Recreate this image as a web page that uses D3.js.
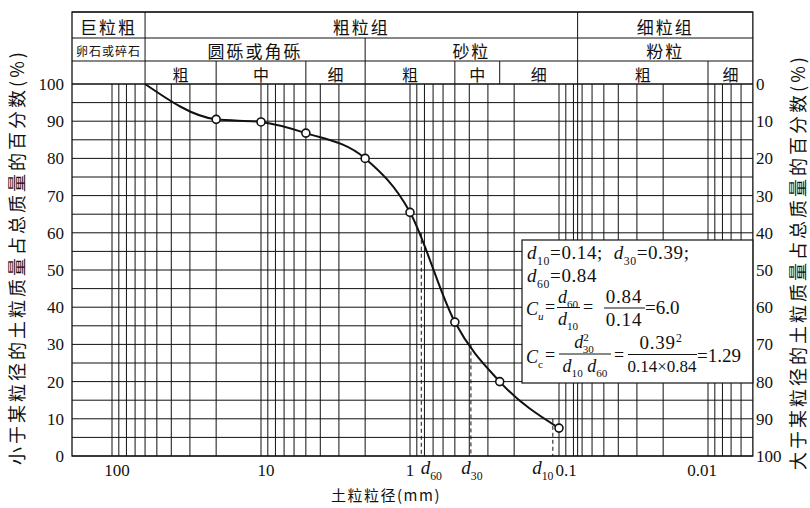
<!DOCTYPE html>
<html>
<head>
<meta charset="utf-8">
<script src="https://cdn.jsdelivr.net/npm/d3@7"></script>
<style>
body{margin:0;background:#fff}
svg text{font-family:"Liberation Serif","Times New Roman",serif;fill:#111;white-space:pre}
svg text.cjk{font-family:"Noto Sans CJK SC",sans-serif}
</style>
</head>
<body>
<svg id="chart" width="810" height="508"></svg>
<script>
// sieve results (size in mm, % passing)
const sizes   = [60, 20, 10, 5, 2, 1, 0.5, 0.25, 0.1];
const passing = [100, 90.5, 89.8, 86.8, 80, 65.5, 36, 20, 7.5];
const circled = [false, true, true, true, true, true, true, true, true];

// where the dashed d-lines stand in the picture
const dNames = ["d60", "d30", "d10"];
const dSizes = [0.84, 0.39, 0.11];
const dPct   = [60, 30, 10];

const xTickVals = [100, 10, 1, 0.1, 0.01];
const yTickVals = d3.range(0, 101, 10);

// class table above the plot, [label, coarse limit, fine limit]; null = frame edge
const headRow1 = [["巨粒粗", null, 60], ["粗粒组", 60, 0.075], ["细粒组", 0.075, null]];
const headRow2 = [["卵石或碎石", null, 60], ["圆砾或角砾", 60, 2], ["砂粒", 2, 0.075], ["粉粒", 0.075, null]];
const headRow3 = [["", null, 60], ["粗", 60, 20], ["中", 20, 5], ["细", 5, 2], ["粗", 2, 0.5],
                  ["中", 0.5, 0.25], ["细", 0.25, 0.075], ["粗", 0.075, 0.01], ["细", 0.01, null]];

const svg = d3.select("#chart");
const x = d3.scaleLog().domain([100, 0.01]).range([112, 708]);
const y = d3.scaleLinear().domain([0, 100]).range([456, 84]);
const frameL = 72, frameR = x(0.005), frameT = 12;
const rows = [12, 38, 61, 84];
const ink = "#111";

// vertical grid: 1..9 in every decade + the 0.075 limit
let gridX = [];
[10, 1, 0.1, 0.01, 0.001].forEach(b => d3.range(1, 11).forEach(m => {
    const v = +(b * m).toPrecision(3);
    if (v <= 100 && v > 0.005 && !gridX.includes(v)) gridX.push(v);
}));
gridX.push(0.075);

const grid = svg.append("g").attr("stroke", ink).attr("stroke-width", 1);
grid.selectAll(".vx").data(gridX).enter().append("line")
    .attr("x1", d => x(d)).attr("x2", d => x(d))
    .attr("y1", y(100)).attr("y2", y(0));
grid.selectAll(".hy").data(d3.range(0, 101, 5)).enter().append("line")
    .attr("x1", frameL).attr("x2", frameR)
    .attr("y1", d => y(d)).attr("y2", d => y(d));

// header table
const head = svg.append("g");
[[headRow1, 0, 17, 2], [headRow2, 1, 17, 2], [headRow3, 2, 16, 0]].forEach(([cells, r, fs, ls]) => {
    cells.forEach(c => {
        const x0 = c[1] === null ? frameL : x(c[1]);
        const x1 = c[2] === null ? frameR : x(c[2]);
        const small = c[0] === "卵石或碎石";
        head.append("text").attr("class", "cjk")
            .attr("x", (x0 + x1) / 2).attr("y", (rows[r] + rows[r + 1]) / 2 + 1)
            .attr("text-anchor", "middle").attr("dominant-baseline", "central")
            .attr("font-size", small ? 12 : fs).attr("letter-spacing", small ? 1 : ls)
            .text(c[0]);
        if (c[1] !== null)
            head.append("line").attr("x1", x0).attr("x2", x0)
                .attr("y1", rows[r]).attr("y2", rows[r + 1]).attr("stroke", ink);
    });
});
rows.forEach(r => head.append("line").attr("x1", frameL).attr("x2", frameR)
    .attr("y1", r).attr("y2", r).attr("stroke", ink).attr("stroke-width", 1.2));

// outer frame
svg.append("rect").attr("x", frameL).attr("y", frameT).attr("width", frameR - frameL)
    .attr("height", y(0) - frameT).attr("fill", "none").attr("stroke", ink).attr("stroke-width", 1.3);

// dashed d-lines
svg.append("g").selectAll("line").data(dSizes).enter().append("line")
    .attr("x1", d => x(d)).attr("x2", d => x(d))
    .attr("y1", (d, i) => y(dPct[i])).attr("y2", y(0))
    .attr("stroke", ink).attr("stroke-dasharray", "4,3");

// white box for the formulas
const bx = 522, by = 240, bh = 143;
svg.append("rect").attr("x", bx).attr("y", by).attr("width", frameR - bx).attr("height", bh)
    .attr("fill", "#fff").attr("stroke", ink).attr("stroke-width", 1.2);

// curve
const pts = sizes.map((s, i) => [x(s), y(passing[i])]);
svg.append("path").attr("d", d3.line().curve(d3.curveMonotoneX)(pts))
    .attr("fill", "none").attr("stroke", ink).attr("stroke-width", 2);
svg.append("g").selectAll("circle").data(pts.filter((p, i) => circled[i])).enter()
    .append("circle").attr("cx", d => d[0]).attr("cy", d => d[1]).attr("r", 4)
    .attr("fill", "#fff").attr("stroke", ink).attr("stroke-width", 1.6);

// axis labels
svg.append("g").selectAll("text").data(yTickVals).enter().append("text")
    .attr("x", 64).attr("y", d => y(d)).attr("dy", "0.35em")
    .attr("text-anchor", "end").attr("font-size", 17).text(d => d);
svg.append("g").selectAll("text").data(yTickVals).enter().append("text")
    .attr("x", 756).attr("y", d => y(100 - d)).attr("dy", "0.35em")
    .attr("font-size", 17).text(d => d);
svg.append("g").selectAll("text").data(xTickVals).enter().append("text")
    .attr("x", d => d === 1 ? x(d) : d === 0.01 ? x(d) - 6 : d === 0.1 ? x(d) + 7 : x(d) + 5)
    .attr("y", 476).attr("text-anchor", "middle")
    .attr("font-size", 17).text(d => d);

function rich(g, px, py, parts, size, anchor) {
    const t = g.append("text").attr("x", px).attr("y", py)
        .attr("font-size", size).attr("text-anchor", anchor || "start");
    let shift = 0;
    parts.forEach(p => {
        const want = p.sub ? size * 0.3 : p.sup ? -size * 0.38 : 0;
        t.append("tspan").attr("dy", want - shift).attr("dx", p.dx || null)
            .attr("font-style", p.i ? "italic" : null)
            .attr("font-size", (p.sub || p.sup) ? size * 0.62 : null).text(p.t);
        shift = want;
    });
    return t;
}
const D = n => [{t: "d", i: true}, {t: n, sub: true}];

// d labels under the axis
const dl = svg.append("g");
dNames.forEach((n, i) => {
    const dx = i === 0 ? 10 : i === 1 ? 1 : -10;
    rich(dl, x(dSizes[i]) + dx, 474, D(n.slice(1)), 19, "middle");
});

// formulas
const fg = svg.append("g");
rich(fg, 527, 259, [...D("10"), {t: "=0.14;  "}, ...D("30"), {t: "=0.39;"}], 19).attr("letter-spacing", 0.6);
rich(fg, 527, 282, [...D("60"), {t: "=0.84"}], 19).attr("letter-spacing", 0.6);

rich(fg, 526, 315, [{t: "C", i: true}, {t: "u", i: true, sub: true}], 18);
fg.append("text").attr("x", 545).attr("y", 313).attr("font-size", 18).text("=");
rich(fg, 568, 303, D("60"), 18, "middle");
rich(fg, 568, 325, D("10"), 18, "middle");
fg.append("line").attr("x1", 557).attr("x2", 580).attr("y1", 307.5).attr("y2", 307.5).attr("stroke", ink);
fg.append("text").attr("x", 583).attr("y", 313).attr("font-size", 18).text("=");
fg.append("text").attr("x", 624).attr("y", 303).attr("font-size", 19).attr("text-anchor", "middle").attr("letter-spacing", 0.8).text("0.84");
fg.append("text").attr("x", 624).attr("y", 326).attr("font-size", 19).attr("text-anchor", "middle").attr("letter-spacing", 0.8).text("0.14");
fg.append("line").attr("x1", 604).attr("x2", 645).attr("y1", 308).attr("y2", 308).attr("stroke", ink);
fg.append("text").attr("x", 645).attr("y", 314).attr("font-size", 19).text("=6.0");

rich(fg, 526, 363, [{t: "C", i: true}, {t: "c", sub: true}], 18);
fg.append("text").attr("x", 545).attr("y", 361).attr("font-size", 18).text("=");
rich(fg, 584, 348, [{t: "d", i: true}, {t: "2", sup: true}, {t: "30", sub: true, dx: -6}], 18, "middle");
rich(fg, 585, 372, [...D("10"), {t: " "}, ...D("60")], 18, "middle");
fg.append("line").attr("x1", 559).attr("x2", 611).attr("y1", 354).attr("y2", 354).attr("stroke", ink);
fg.append("text").attr("x", 614).attr("y", 361).attr("font-size", 18).text("=");
rich(fg, 661, 349, [{t: "0.39"}, {t: "2", sup: true}], 19, "middle").attr("letter-spacing", 0.8);
fg.append("text").attr("x", 662).attr("y", 372).attr("font-size", 17).attr("text-anchor", "middle").text("0.14×0.84");
fg.append("line").attr("x1", 628).attr("x2", 697).attr("y1", 354.5).attr("y2", 354.5).attr("stroke", ink);
fg.append("text").attr("x", 697).attr("y", 362).attr("font-size", 19).text("=1.29");

// axis titles (both read bottom to top)
svg.append("text").attr("class", "cjk").attr("font-size", 18).attr("letter-spacing", 3)
    .attr("text-anchor", "middle").attr("dominant-baseline", "central")
    .attr("transform", "translate(16,257) rotate(-90)")
    .text("小于某粒径的土粒质量占总质量的百分数(%)");
svg.append("text").attr("class", "cjk").attr("font-size", 18).attr("letter-spacing", 3)
    .attr("text-anchor", "middle").attr("dominant-baseline", "central")
    .attr("transform", "translate(797,262) rotate(-90)")
    .text("大于某粒径的土粒质量占总质量的百分数(%)");
svg.append("text").attr("class", "cjk").attr("font-size", 15).attr("letter-spacing", 1.5)
    .attr("x", 386).attr("y", 501).attr("text-anchor", "middle")
    .text("土粒粒径(mm)");
</script>
</body>
</html>
